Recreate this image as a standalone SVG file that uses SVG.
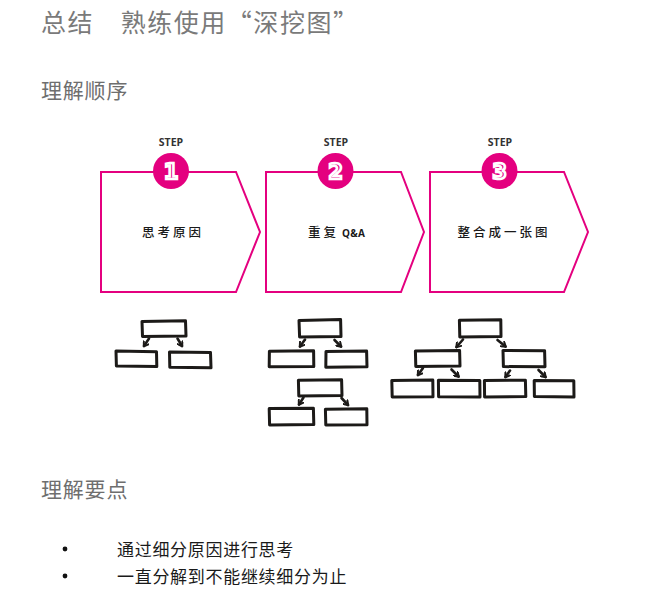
<svg xmlns="http://www.w3.org/2000/svg" width="665" height="609" viewBox="0 0 665 609">
  <style>
    .h1 { font-family: "Noto Sans CJK SC", "Liberation Sans", sans-serif; font-size: 25px; fill: #7a7a7a; }
    .h2 { font-family: "Noto Sans CJK SC", "Liberation Sans", sans-serif; font-size: 21px; fill: #6e6e6e; letter-spacing: 0.8px; }
    .body { font-family: "Noto Sans CJK SC", "Liberation Sans", sans-serif; font-size: 17px; fill: #1a1a1a; letter-spacing: 0.7px; }
    .step { fill: #ffffff; stroke: #e4007f; stroke-width: 2; }
    .badge { fill: #e4007f; }
    .num { font-family: "DejaVu Sans", "Liberation Sans", sans-serif; font-size: 21px; font-weight: 900; fill: #e4007f; stroke: #ffffff; stroke-width: 2.6; text-anchor: middle; }
    .steptxt { font-family: "Open Sans", "Liberation Sans", sans-serif; font-size: 10.5px; font-weight: 700; fill: #333333; text-anchor: middle; }
    .label { font-family: "Noto Sans CJK SC", "Liberation Sans", sans-serif; font-size: 12.5px; font-weight: 500; fill: #1a1a1a; letter-spacing: 3px; text-anchor: middle; }
    .latin { font-family: "Open Sans", "Liberation Sans", sans-serif; font-size: 10px; font-weight: 700; letter-spacing: 0.3px; }
    .box { fill: #ffffff; stroke: #1c1a18; stroke-width: 3; stroke-linejoin: round; stroke-linecap: round; }
    .arr { fill: none; stroke: #1c1a18; stroke-width: 2.6; stroke-linecap: round; marker-end: url(#chev); }
  </style>
  <defs>
    <marker id="chev" viewBox="0 0 8 8" refX="5.5" refY="4" markerWidth="7" markerHeight="7" markerUnits="userSpaceOnUse" orient="auto">
      <path d="M1,0.8 L6,4 L1,7.2" fill="none" stroke="#1c1a18" stroke-width="2.2" stroke-linejoin="round" stroke-linecap="round"/>
    </marker>
  </defs>

  <!-- headings -->
  <text class="h1" x="41" y="32" textLength="317" lengthAdjust="spacing">总结　熟练使用“深挖图”</text>
  <text class="h2" x="41" y="98">理解顺序</text>
  <text class="h2" x="41" y="497">理解要点</text>

  <!-- step 1 -->
  <g id="step1">
    <path class="step" d="M101,172 H236 L260,232 L236,292 H101 Z"/>
    <text class="steptxt" x="171" y="146">STEP</text>
    <circle class="badge" cx="171" cy="171" r="18"/>
    <text class="num" x="171" y="179">1</text>
    <text class="label" x="173" y="237">思考原因</text>
  </g>

  <!-- step 2 -->
  <g id="step2">
    <path class="step" d="M266,172 H401 L424,232 L401,292 H266 Z"/>
    <text class="steptxt" x="336" y="146">STEP</text>
    <circle class="badge" cx="335.5" cy="171" r="18"/>
    <text class="num" x="335.5" y="179">2</text>
    <text class="label" x="308" y="237" style="text-anchor:start">重复<tspan class="latin" x="342">Q&amp;A</tspan></text>
  </g>

  <!-- step 3 -->
  <g id="step3">
    <path class="step" d="M430,172 H564 L588,232 L564,292 H430 Z"/>
    <text class="steptxt" x="500" y="146">STEP</text>
    <circle class="badge" cx="499.5" cy="171" r="18"/>
    <text class="num" x="499.5" y="179">3</text>
    <text class="label" x="504" y="237">整合成一张图</text>
  </g>

  <!-- tree under step 1 -->
  <g id="tree1">
    <path class="box" d="M142,321.5 L185.5,320.8 L186,336 L142.5,336.5 Z"/>
    <path class="box" d="M116,351 L156.5,351.8 L156.8,366.5 L116.4,366 Z"/>
    <path class="box" d="M169.5,352 L210.5,352.6 L211,367.8 L169.8,367.2 Z"/>
  </g>

  <!-- trees under step 2 -->
  <g id="tree2a">
    <path class="box" d="M299,320.4 L340.6,319.6 L341,336.5 L299.6,337 Z"/>
    <path class="box" d="M269.4,351.2 L313.6,350.8 L313.8,366.4 L269.2,366.8 Z"/>
    <path class="box" d="M326,351.4 L366.6,351 L367,366.8 L325.8,367.2 Z"/>
  </g>
  <g id="tree2b">
    <path class="box" d="M298.4,380.2 L341.6,379.8 L342,395.6 L298.8,396 Z"/>
    <path class="box" d="M269.2,408.6 L313.4,408.2 L313.8,424.6 L269.6,425 Z"/>
    <path class="box" d="M325.4,409.2 L366.8,408.8 L367,424.8 L325.8,425 Z"/>
  </g>

  <!-- tree under step 3 -->
  <g id="tree3">
    <path class="box" d="M459.4,320.2 L500.8,319.8 L501,336.6 L459.8,337 Z"/>
    <path class="box" d="M415.4,351 L459.6,350.6 L460,366 L415.8,366.4 Z"/>
    <path class="box" d="M503,350.4 L544.6,350.8 L545,366.8 L503.4,366.6 Z"/>
    <path class="box" d="M391.8,380.4 L432.8,380 L433,396.8 L392.2,397 Z"/>
    <path class="box" d="M438.4,380.2 L479.8,380.6 L480,397 L438.6,396.8 Z"/>
    <path class="box" d="M484.4,380.6 L525.4,380.2 L525.8,396.6 L484.6,397 Z"/>
    <path class="box" d="M534.2,380.4 L573.8,380.8 L574,397 L534.4,396.6 Z"/>
  </g>

  <!-- connectors -->
  <g id="connectors">
    <path class="arr" d="M149,338.5 L144,346"/>
    <path class="arr" d="M177.5,338.5 L182,346"/>

    <path class="arr" d="M305,339.5 L300,346.5"/>
    <path class="arr" d="M334.5,340 L341,346.5"/>
    <path class="arr" d="M303.5,397.5 L299,404.5"/>
    <path class="arr" d="M341.5,398 L348,405"/>

    <path class="arr" d="M463,339.5 L456.5,347"/>
    <path class="arr" d="M497.5,340 L505.5,346.5"/>
    <path class="arr" d="M423,368 L418,375"/>
    <path class="arr" d="M451.5,369.5 L458.5,376.5"/>
    <path class="arr" d="M510,370.5 L505.5,377"/>
    <path class="arr" d="M538.5,370 L545.5,377"/>
  </g>

  <!-- key points -->
  <circle cx="65" cy="549" r="2.4" fill="#111"/>
  <circle cx="65" cy="576" r="2.4" fill="#111"/>
  <text class="body" x="117" y="556">通过细分原因进行思考</text>
  <text class="body" x="117" y="583">一直分解到不能继续细分为止</text>
</svg>
